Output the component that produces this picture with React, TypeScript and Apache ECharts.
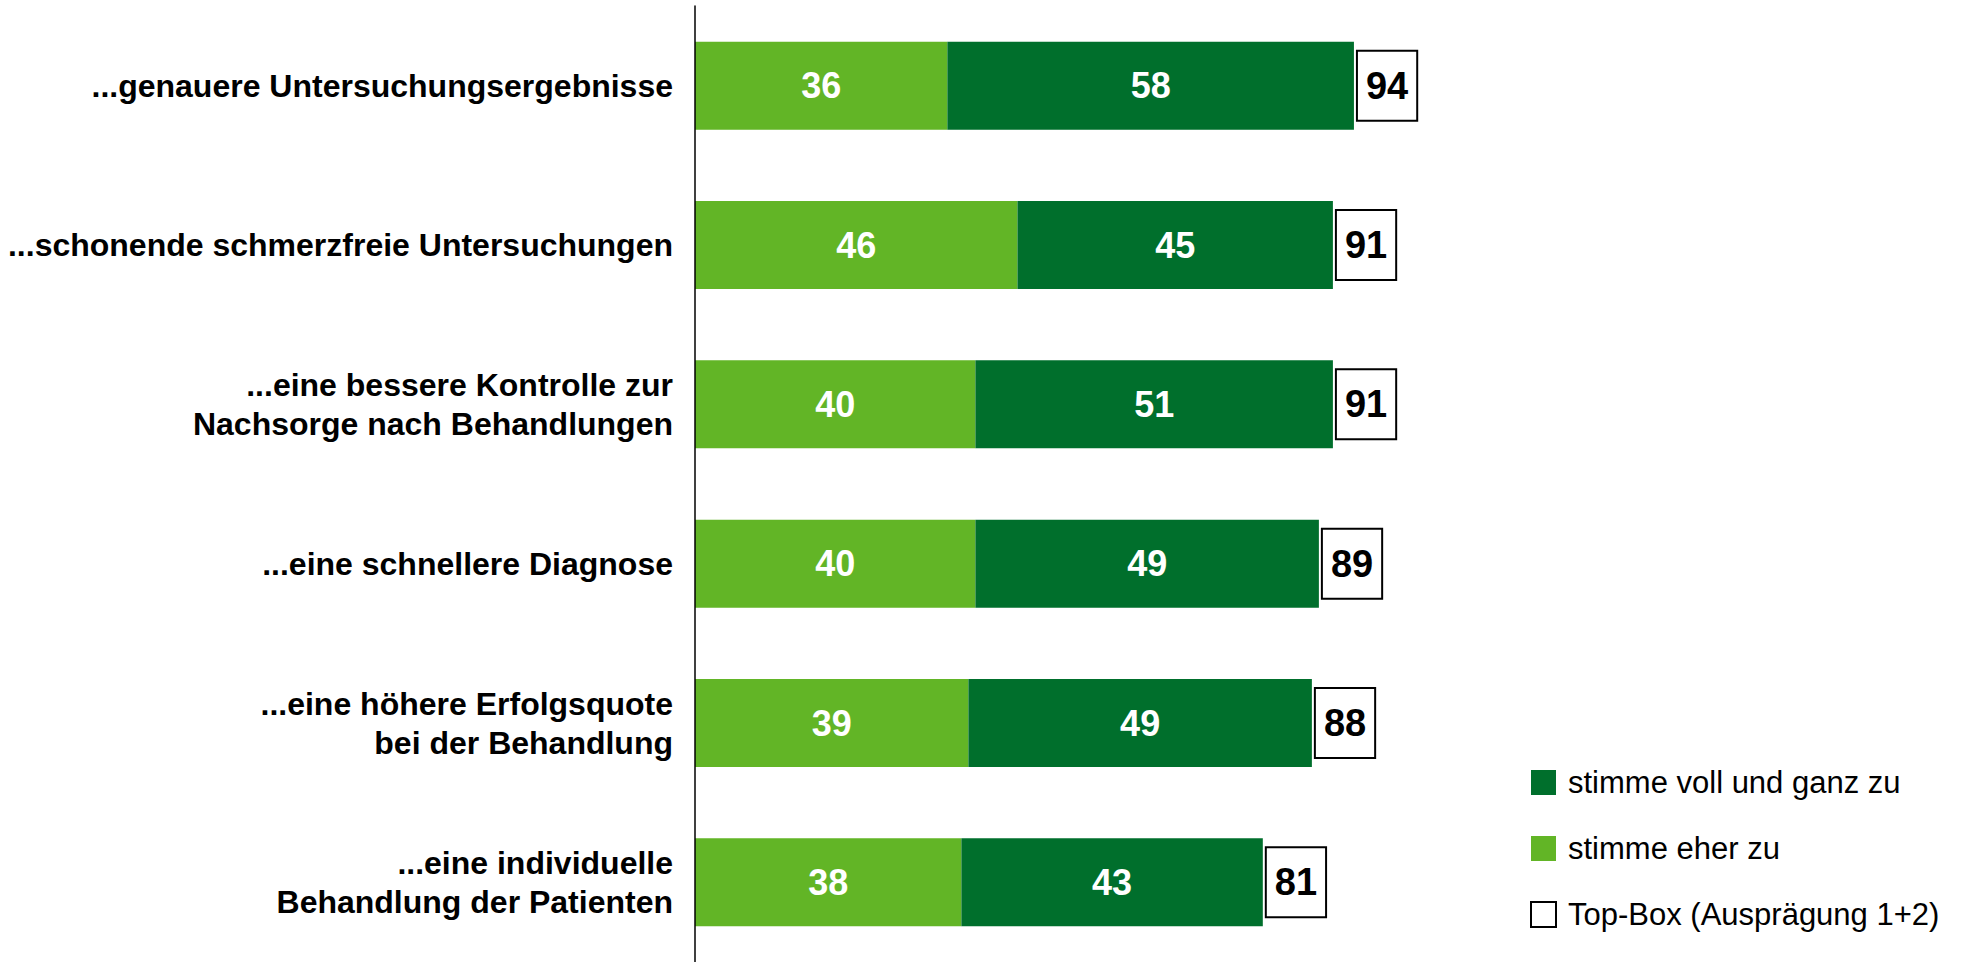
import React, { useEffect, useRef } from "react";
import * as echarts from "echarts";

const categories = [
  "...genauere Untersuchungsergebnisse",
  "...schonende schmerzfreie Untersuchungen",
  "...eine bessere Kontrolle zur\nNachsorge nach Behandlungen",
  "...eine schnellere Diagnose",
  "...eine höhere Erfolgsquote\nbei der Behandlung",
  "...eine individuelle\nBehandlung der Patienten",
];
const eherZu = [36, 46, 40, 40, 39, 38];
const vollZu = [58, 45, 51, 49, 49, 43];
const topBox = [94, 91, 91, 89, 88, 81];

const NAME_VOLL = "stimme voll und ganz zu";
const NAME_EHER = "stimme eher zu";
const NAME_TOP = "Top-Box (Ausprägung 1+2)";

const FONT = "'Liberation Sans', Arial, Helvetica, sans-serif";
const LIGHT = "#62B526";
const DARK = "#006F2C";

export default function App() {
  const ref = useRef<HTMLDivElement>(null);
  useEffect(() => {
    if (!ref.current) return;
    const chart = echarts.init(ref.current, undefined, { renderer: "svg" });
    chart.setOption({
      animation: false,
      backgroundColor: "#ffffff",
      textStyle: { fontFamily: FONT },
      grid: { left: 695, top: 6, width: 701, height: 958, containLabel: false },
      xAxis: {
        type: "value",
        min: 0,
        max: 100,
        show: false,
      },
      yAxis: {
        type: "category",
        inverse: true,
        data: categories,
        axisLine: { show: true, lineStyle: { color: "#000", width: 1.5 } },
        axisTick: { show: false },
        axisLabel: {
          color: "#000",
          fontFamily: FONT,
          fontWeight: "bold",
          fontSize: 32,
          lineHeight: 39,
          margin: 22,
          align: "right",
        },
        z: 5,
      },
      legend: {
        orient: "vertical",
        left: 1530,
        top: 767,
        padding: 0,
        itemWidth: 25,
        itemHeight: 25,
        itemGap: 35,
        icon: "rect",
        selectedMode: false,
        textStyle: { fontFamily: FONT, fontSize: 31, color: "#000", lineHeight: 30, padding: [0, 0, 0, 7] },
        data: [
          { name: NAME_VOLL },
          { name: NAME_EHER },
          { name: NAME_TOP, itemStyle: { color: "#fff", borderColor: "#000", borderWidth: 2, opacity: 1 } },
        ],
      },
      series: [
        {
          name: NAME_EHER,
          type: "bar",
          stack: "total",
          barWidth: 88,
          data: eherZu,
          itemStyle: { color: LIGHT },
          label: {
            show: true,
            position: "inside",
            color: "#fff",
            fontFamily: FONT,
            fontWeight: "bold",
            fontSize: 36,
          },
        },
        {
          name: NAME_VOLL,
          type: "bar",
          stack: "total",
          barWidth: 88,
          data: vollZu,
          itemStyle: { color: DARK },
          label: {
            show: true,
            position: "inside",
            color: "#fff",
            fontFamily: FONT,
            fontWeight: "bold",
            fontSize: 36,
          },
        },
        {
          name: NAME_TOP,
          type: "scatter",
          symbolSize: 0,
          itemStyle: { color: "#fff", borderColor: "#000", borderWidth: 2, opacity: 1 },
          data: topBox.map((t, i) => [t, categories[i]]),
          label: {
            show: true,
            position: "right",
            distance: 4,
            formatter: (p: any) => String(p.value[0]),
            color: "#000",
            opacity: 1,
            fontFamily: FONT,
            fontWeight: "bold",
            fontSize: 38,
            lineHeight: 38,
            backgroundColor: "#fff",
            borderColor: "#000",
            borderWidth: 2,
            padding: [15, 8, 15, 8],
          },
          z: 10,
        },
      ],
    });
    return () => chart.dispose();
  }, []);
  return (
    <div
      ref={ref}
      style={{ position: "fixed", left: 0, top: 0, width: 1972, height: 962, background: "#fff" }}
    />
  );
}
